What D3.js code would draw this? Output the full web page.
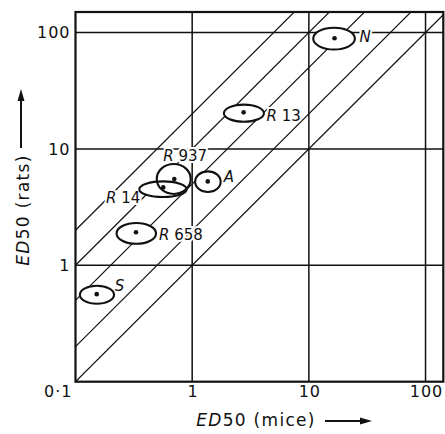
<!DOCTYPE html>
<html>
<head>
<meta charset="utf-8">
<script src="https://cdn.jsdelivr.net/npm/d3@7"></script>
<style>
body { margin: 0; background: #fff; }
text { font-family: "DejaVu Sans", sans-serif; fill: #111; }
</style>
</head>
<body>
<div id="wrapper"></div>
<script>
// compounds: ED50 in mice (x) and rats (y), with the limits that make the ellipses
const compounds = ["S", "R 658", "R 14", "R 937", "A", "R 13", "N"];
const miceED50 = [0.152, 0.330, 0.565, 0.703, 1.36, 2.76, 16.6];
const ratsED50 = [0.565, 1.92, 4.67, 5.51, 5.26, 20.6, 89.3];
const miceLo = [0.109, 0.225, 0.352, 0.497, 1.06, 1.87, 10.9];
const miceHi = [0.214, 0.490, 0.897, 0.971, 1.755, 4.12, 24.8];
const ratsLo = [0.467, 1.53, 3.86, 4.10, 4.26, 17.1, 71.4];
const ratsHi = [0.667, 2.31, 5.26, 7.42, 6.41, 24.0, 110];

// lines of constant ratio rats/mice
const ratioLines = [1, 2, 5, 10, 20];

const xTicks = [0.1, 1, 10, 100];
const xTickLabels = ["0·1", "1", "10", "100"];
const yTicks = [1, 10, 100];
const yTickLabels = ["1", "10", "100"];

const width = 445
const height = 434
const plot = { left: 75.5, right: 443.3, top: 12, bottom: 381.7 }

// label placement, relative to the dot
const labelPos = {
    "S": [18, -3, "start"],
    "R 658": [23, 8, "start"],
    "R 14": [-23, 16, "end"],
    "R 937": [-11, -18, "start"],
    "A": [16, 1, "start"],
    "R 13": [23, 9, "start"],
    "N": [25, 4, "start"],
}

const svg = d3.select("#wrapper")
    .append("svg")
    .attr("width", width)
    .attr("height", height);

const x = d3.scaleLog()
    .domain([0.1, 142])
    .range([plot.left, plot.right]);

const y = d3.scaleLog()
    .domain([0.1, 150])
    .range([plot.bottom, plot.top]);

svg.append("clipPath")
    .attr("id", "clip")
    .append("rect")
    .attr("x", plot.left)
    .attr("y", plot.top)
    .attr("width", plot.right - plot.left)
    .attr("height", plot.bottom - plot.top);

// grid
svg.append("g")
    .selectAll("line")
    .data(xTicks.slice(1))
    .enter()
    .append("line")
    .attr("x1", d => x(d)).attr("x2", d => x(d))
    .attr("y1", plot.top).attr("y2", plot.bottom)
    .attr("stroke", "#111")
    .attr("stroke-width", 1.5);

svg.append("g")
    .selectAll("line")
    .data(yTicks)
    .enter()
    .append("line")
    .attr("y1", d => y(d)).attr("y2", d => y(d))
    .attr("x1", plot.left).attr("x2", plot.right)
    .attr("stroke", "#111")
    .attr("stroke-width", 1.5);

// ratio lines
svg.append("g")
    .attr("clip-path", "url(#clip)")
    .selectAll("line")
    .data(ratioLines)
    .enter()
    .append("line")
    .attr("x1", x(0.1)).attr("y1", k => y(0.1 * k))
    .attr("x2", x(142)).attr("y2", k => y(142 * k))
    .attr("stroke", "#111")
    .attr("stroke-width", 1.2);

// frame
svg.append("rect")
    .attr("x", plot.left)
    .attr("y", plot.top)
    .attr("width", plot.right - plot.left)
    .attr("height", plot.bottom - plot.top)
    .attr("fill", "none")
    .attr("stroke", "#111")
    .attr("stroke-width", 2.2);

const pts = compounds.map((c, i) => ({
    name: c,
    mx: miceED50[i], ry: ratsED50[i],
    x0: miceLo[i], x1: miceHi[i], y0: ratsLo[i], y1: ratsHi[i]
}));

// labels (white halo cuts the lines under them)
const labels = svg.append("g")
    .selectAll("text")
    .data(pts)
    .enter()
    .append("text")
    .attr("x", d => x(d.mx) + labelPos[d.name][0])
    .attr("y", d => y(d.ry) + labelPos[d.name][1])
    .attr("text-anchor", d => labelPos[d.name][2])
    .attr("font-size", "15px")
    .attr("stroke", "#fff")
    .attr("stroke-width", 4)
    .attr("paint-order", "stroke");
labels.append("tspan")
    .attr("font-style", "italic")
    .text(d => d.name.slice(0, 1));
labels.append("tspan")
    .text(d => d.name.slice(1));

// ellipses: white fills first, then all outlines so overlaps stay visible
const ell = sel => sel
    .attr("cx", d => (x(d.x0) + x(d.x1)) / 2)
    .attr("cy", d => (y(d.y0) + y(d.y1)) / 2)
    .attr("rx", d => (x(d.x1) - x(d.x0)) / 2)
    .attr("ry", d => (y(d.y0) - y(d.y1)) / 2);

svg.append("g")
    .selectAll("ellipse")
    .data(pts)
    .enter()
    .append("ellipse")
    .call(ell)
    .attr("fill", "#fff");

svg.append("g")
    .selectAll("ellipse")
    .data(pts)
    .enter()
    .append("ellipse")
    .call(ell)
    .attr("fill", "none")
    .attr("stroke", "#111")
    .attr("stroke-width", 2.1);

svg.append("g")
    .selectAll("circle")
    .data(pts)
    .enter()
    .append("circle")
    .attr("cx", d => x(d.mx))
    .attr("cy", d => y(d.ry))
    .attr("r", 2.3)
    .attr("fill", "#111");

// tick labels
svg.append("g")
    .selectAll("text")
    .data(xTicks)
    .enter()
    .append("text")
    .attr("x", (d, i) => i == 0 ? x(d) - 3 : x(d) + 1)
    .attr("y", 397)
    .attr("text-anchor", (d, i) => i == 0 ? "end" : "middle")
    .attr("font-size", "16px")
    .attr("letter-spacing", "1px")
    .text((d, i) => xTickLabels[i]);

svg.append("g")
    .selectAll("text")
    .data(yTicks)
    .enter()
    .append("text")
    .attr("x", plot.left - 5)
    .attr("y", d => y(d) + 6)
    .attr("text-anchor", "end")
    .attr("font-size", "16px")
    .attr("letter-spacing", "1px")
    .text((d, i) => yTickLabels[i]);

// axis titles
const xTitle = svg.append("text")
    .attr("x", 256)
    .attr("y", 426)
    .attr("text-anchor", "middle")
    .attr("font-size", "17px")
    .attr("letter-spacing", "1.3px");
xTitle.append("tspan").attr("font-style", "italic").text("ED");
xTitle.append("tspan").text("50 (mice)");

const yTitle = svg.append("text")
    .attr("transform", "translate(29,210) rotate(-90)")
    .attr("text-anchor", "middle")
    .attr("font-size", "17px")
    .attr("letter-spacing", "1.3px");
yTitle.append("tspan").attr("font-style", "italic").text("ED");
yTitle.append("tspan").text("50 (rats)");

// arrows
svg.append("line")
    .attr("x1", 325).attr("x2", 362)
    .attr("y1", 421).attr("y2", 421)
    .attr("stroke", "#111").attr("stroke-width", 2);
svg.append("path")
    .attr("d", "M372,421 L360,417.5 L360,424.5 Z")
    .attr("fill", "#111");

svg.append("line")
    .attr("x1", 21).attr("x2", 21)
    .attr("y1", 148).attr("y2", 98)
    .attr("stroke", "#111").attr("stroke-width", 2);
svg.append("path")
    .attr("d", "M21,89 L17.5,101 L24.5,101 Z")
    .attr("fill", "#111");
</script>
</body>
</html>
